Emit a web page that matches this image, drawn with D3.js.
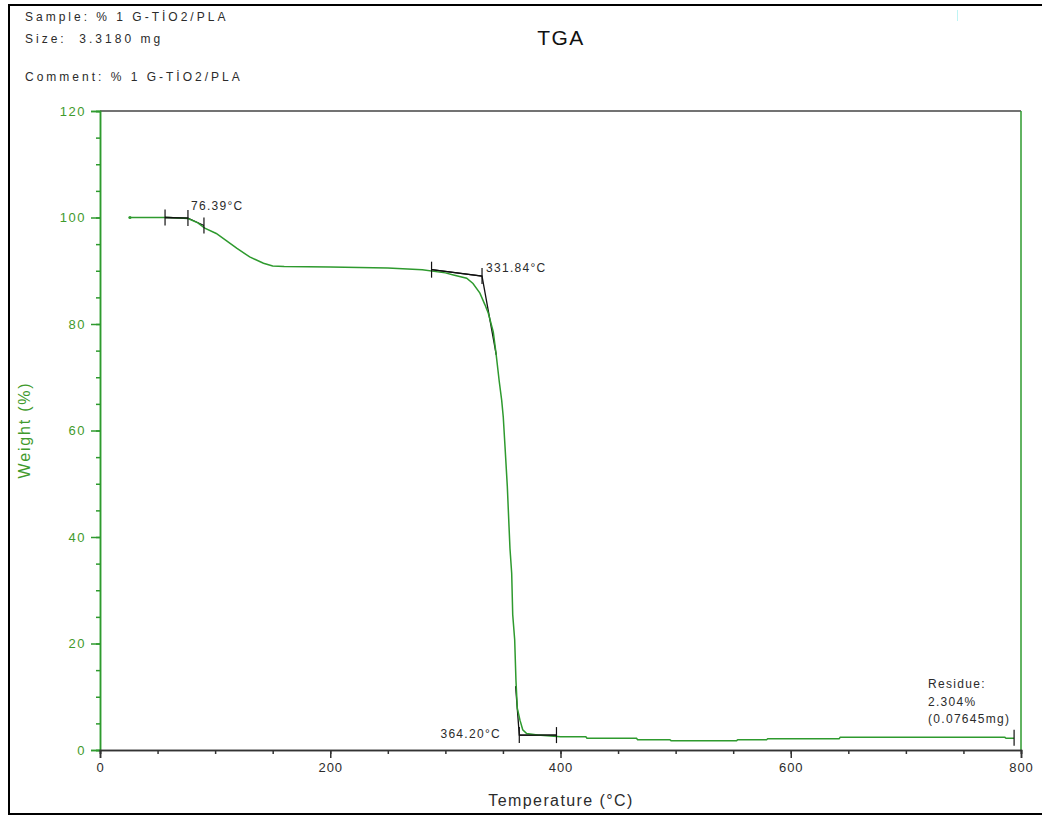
<!DOCTYPE html>
<html>
<head>
<meta charset="utf-8">
<script src="https://cdn.jsdelivr.net/npm/d3@7"></script>
<style>
  html, body { margin: 0; padding: 0; background: #fff; }
  svg { display: block; }
  text { font-family: "Liberation Sans", Arial, sans-serif; white-space: pre; }
</style>
</head>
<body>
<svg id="chart" width="1042" height="816"></svg>
<script>
// TGA run of 1 % G-TiO2/PLA: weight (%) against temperature (°C)
const temperatureC = [26, 40, 60, 76.4, 85, 91, 101, 110, 119, 130, 142, 150, 160, 200, 250, 280,
  300, 307, 318.5, 324, 330, 334.4, 337.3, 341.6, 344, 346.8, 348.9, 350.3, 351.8, 353.8, 355.3,
  356.1, 357.6, 358.5, 360.2, 361.3, 362.5, 364.8, 367.2, 370.6, 380, 400, 422, 423, 466, 467,
  495, 496, 553, 554, 579, 580, 642, 643, 786, 787, 794];
const weightPct = [100, 100, 100, 99.8, 99.0, 98.0, 97.0, 95.6, 94.2, 92.6, 91.4, 90.9, 90.8, 90.7,
  90.5, 90.2, 89.6, 89.2, 88.6, 87.6, 85.8, 83.6, 82.0, 78.5, 74.5, 69.2, 65.7, 62.5, 57.0, 49.5,
  41.9, 37.9, 33.2, 25.4, 20.7, 13.1, 7.8, 5.6, 3.8, 3.1, 2.8, 2.5, 2.5, 2.2, 2.2, 1.93, 1.93,
  1.75, 1.75, 1.93, 1.93, 2.12, 2.12, 2.38, 2.38, 2.2, 2.2];

// Tick values
const xMajorTicks = [0, 200, 400, 600, 800];
const xMinorTicks = d3.range(0, 801, 50);
const yMajorTicks = [0, 20, 40, 60, 80, 100, 120];
const yMinorTicks = d3.range(0, 121, 5);

// Onset / endset constructions (temperature, weight)
const onsetLow = [[56.5, 100.0], [76.39, 99.9], [90.3, 98.5]];
const onsetLowTicks = [56.5, 76.39, 90.3];
const onsetMain = [[288, 90.2], [331.84, 89.0], [344.2, 74.2]];
const onsetMainTicks = [288, 331.84];
const endsetMain = [[361.0, 12.0], [364.20, 2.8], [396.5, 2.8]];
const endsetTicks = [364.20, 396.5];
const residueT = 794;
const residueW = 2.304;

// Header texts
const headerLines = [
  { text: "Sample: % 1 G-TİO2/PLA", y: 21 },
  { text: "Size:  3.3180 mg", y: 43 },
  { text: "Comment: % 1 G-TİO2/PLA", y: 81 }
];

const svg = d3.select("#chart");
const green = "#2e9a2e";
const labelGreen = "#3f9a2c";
const ink = "#2b2b2b";

// Outer frame
svg.append("rect").attr("x", 9).attr("y", 5).attr("width", 1045).attr("height", 809)
  .attr("fill", "none").attr("stroke", "#000").attr("stroke-width", 2);
// small stray mark at the top right
svg.append("line").attr("x1", 957.5).attr("x2", 957.5).attr("y1", 10).attr("y2", 21)
  .attr("stroke", "#bff4f4").attr("stroke-width", 1);

headerLines.forEach(h => {
  svg.append("text").attr("x", 25).attr("y", h.y).attr("font-size", 12)
    .attr("letter-spacing", "3px").attr("fill", ink).text(h.text);
});

svg.append("text").attr("x", 561).attr("y", 45).attr("text-anchor", "middle")
  .attr("font-size", 21).attr("letter-spacing", "1.5px").attr("fill", "#111").text("TGA");

const x = d3.scaleLinear().domain([0, 800]).range([100, 1021]);
const y = d3.scaleLinear().domain([0, 120]).range([750, 111]);

// Plot border: top (dark) and right (green)
svg.append("line").attr("x1", x(0)).attr("x2", x(800)).attr("y1", y(120)).attr("y2", y(120))
  .attr("stroke", "#444").attr("stroke-width", 1.5);
svg.append("line").attr("x1", x(800)).attr("x2", x(800)).attr("y1", y(120)).attr("y2", y(0))
  .attr("stroke", green).attr("stroke-width", 1.5);

// Y axis (green)
const yMinor = svg.append("g").attr("transform", `translate(${x(0)},0)`)
  .call(d3.axisLeft(y).tickValues(yMinorTicks).tickSize(4).tickFormat(""));
const yMajor = svg.append("g").attr("transform", `translate(${x(0)},0)`)
  .call(d3.axisLeft(y).tickValues(yMajorTicks).tickSize(9).tickPadding(5));
[yMinor, yMajor].forEach(g => {
  g.selectAll("path").attr("stroke", green).attr("stroke-width", 1.5);
  g.selectAll("line").attr("stroke", green).attr("stroke-width", 1.5);
});
yMajor.selectAll("text").attr("font-size", 13).attr("letter-spacing", "1.5px")
  .attr("fill", labelGreen).attr("font-family", "Liberation Sans, Arial, sans-serif");

// X axis (dark)
const xMinor = svg.append("g").attr("transform", `translate(0,${y(0)})`)
  .call(d3.axisBottom(x).tickValues(xMinorTicks).tickSize(4).tickFormat(""));
const xMajor = svg.append("g").attr("transform", `translate(0,${y(0)})`)
  .call(d3.axisBottom(x).tickValues(xMajorTicks).tickSize(8).tickPadding(5));
[xMinor, xMajor].forEach(g => {
  g.selectAll("path").attr("stroke", "#333").attr("stroke-width", 1.5);
  g.selectAll("line").attr("stroke", "#333").attr("stroke-width", 1.5);
});
xMajor.selectAll("text").attr("font-size", 13).attr("letter-spacing", "1px")
  .attr("fill", ink).attr("font-family", "Liberation Sans, Arial, sans-serif");

// Axis titles
svg.append("text").attr("x", 561).attr("y", 806).attr("text-anchor", "middle")
  .attr("font-size", 16).attr("letter-spacing", "1.4px").attr("fill", ink).text("Temperature (°C)");
svg.append("text").attr("transform", "translate(30,430) rotate(-90)").attr("text-anchor", "middle")
  .attr("font-size", 16).attr("letter-spacing", "1.8px").attr("fill", labelGreen).text("Weight (%)");

// Weight curve
const pts = temperatureC.map((t, i) => [t, weightPct[i]]);
const line = d3.line().x(d => x(d[0])).y(d => y(d[1]));

// Tangent constructions (black), under the curve
const black = "#111";
[onsetLow, onsetMain, endsetMain].forEach(seg => {
  svg.append("path").attr("d", line(seg)).attr("fill", "none")
    .attr("stroke", black).attr("stroke-width", 1.3);
});

svg.append("path").attr("d", line(pts)).attr("fill", "none")
  .attr("stroke", green).attr("stroke-width", 1.5);
svg.append("circle").attr("cx", x(pts[0][0])).attr("cy", y(pts[0][1])).attr("r", 1.6).attr("fill", green);

// Redraw the tangent ends that sit above the curve
svg.append("path").attr("d", line([onsetLow[0], onsetLow[1]])).attr("fill", "none")
  .attr("stroke", black).attr("stroke-width", 1.3);
svg.append("path").attr("d", line([onsetMain[0], onsetMain[1]])).attr("fill", "none")
  .attr("stroke", black).attr("stroke-width", 1.3);
svg.append("path").attr("d", line([endsetMain[1], endsetMain[2]])).attr("fill", "none")
  .attr("stroke", black).attr("stroke-width", 1.3);

// Vertical marker ticks
function markerTicks(temps, series, half) {
  const interp = t => {
    for (let i = 0; i < series.length - 1; i++) {
      const a = series[i], b = series[i + 1];
      if (t >= a[0] && t <= b[0]) return a[1] + (b[1] - a[1]) * (t - a[0]) / (b[0] - a[0]);
    }
    return series[series.length - 1][1];
  };
  temps.forEach(t => {
    const cy = y(interp(t));
    svg.append("line").attr("x1", x(t)).attr("x2", x(t)).attr("y1", cy - half).attr("y2", cy + half)
      .attr("stroke", black).attr("stroke-width", 1.2);
  });
}
markerTicks(onsetLowTicks, onsetLow, 8);
markerTicks(onsetMainTicks, onsetMain, 8);
markerTicks(endsetTicks, endsetMain, 8);
svg.append("line").attr("x1", x(residueT)).attr("x2", x(residueT))
  .attr("y1", y(residueW) - 8).attr("y2", y(residueW) + 8)
  .attr("stroke", black).attr("stroke-width", 1.2);

// Annotation labels
const annFont = 12, annSpacing = "1.3px";
svg.append("text").attr("x", x(76.39) + 3).attr("y", 210).attr("font-size", annFont)
  .attr("letter-spacing", annSpacing).attr("fill", ink).text("76.39°C");
svg.append("text").attr("x", x(331.84) + 4).attr("y", 272).attr("font-size", annFont)
  .attr("letter-spacing", annSpacing).attr("fill", ink).text("331.84°C");
svg.append("text").attr("x", 501).attr("y", 738).attr("text-anchor", "end").attr("font-size", annFont)
  .attr("letter-spacing", annSpacing).attr("fill", ink).text("364.20°C");
["Residue:", "2.304%", "(0.07645mg)"].forEach((s, i) => {
  svg.append("text").attr("x", 928).attr("y", 688 + i * 17.5).attr("font-size", annFont)
    .attr("letter-spacing", annSpacing).attr("fill", ink).text(s);
});
</script>
</body>
</html>
